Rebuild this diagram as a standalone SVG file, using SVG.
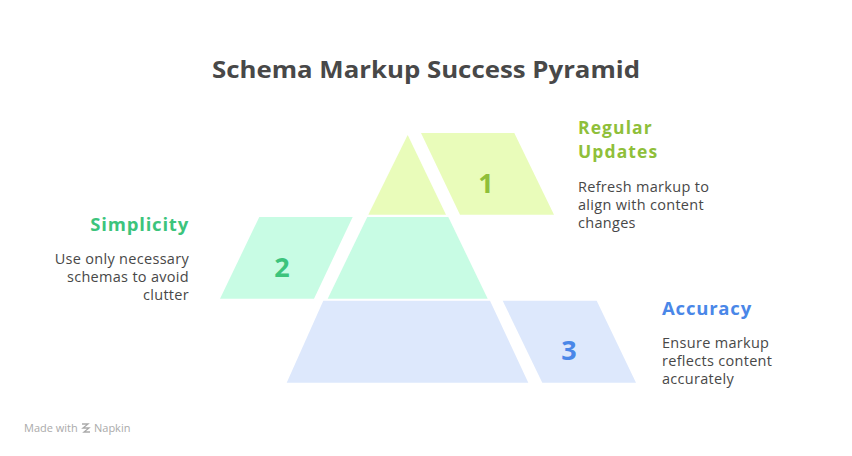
<svg xmlns="http://www.w3.org/2000/svg" width="852" height="456" viewBox="0 0 852 456">
<style>
.title{font-family:"Open Sans","Liberation Sans",sans-serif;font-weight:bold;font-size:24px;fill:#484848}
.head{font-family:"Open Sans","Liberation Sans",sans-serif;font-weight:bold;font-size:18.5px;letter-spacing:0.8px}
.desc{font-family:"Open Sans","Liberation Sans",sans-serif;font-size:14.5px;letter-spacing:0.3px;fill:#484848}
.num{font-family:"Open Sans","Liberation Sans",sans-serif;font-weight:bold;font-size:27px;text-anchor:middle}
.foot{font-family:"Open Sans","Liberation Sans",sans-serif;font-size:11px;fill:#aaaaaa}
.g1{fill:#e9fcba}.t1{fill:#8fbf3a}
.g2{fill:#c8fce4}.t2{fill:#3cc47c}
.g3{fill:#dde8fc}.t3{fill:#4a87e8}
</style>
<rect width="852" height="456" fill="#ffffff"/>
<text class="title" x="426" y="78" text-anchor="middle" textLength="428" lengthAdjust="spacingAndGlyphs">Schema Markup Success Pyramid</text>

<g id="level1">
<polygon class="g1" points="407.7,135 446,214.7 368.3,214.7"/>
<polygon class="g1" points="421,133 514.3,133 554,214.7 460,214.7"/>
<text class="num t1" x="486" y="193">1</text>
<text class="head t1" x="578" y="134" style="font-size:17.5px;letter-spacing:1.1px">Regular</text>
<text class="head t1" x="578" y="158" style="font-size:17.5px;letter-spacing:1.1px">Updates</text>
<text class="desc" x="578" y="192"><tspan x="578" y="192">Refresh markup to</tspan><tspan x="578" y="210">align with content</tspan><tspan x="578" y="228">changes</tspan></text>
</g>

<g id="level2">
<polygon class="g2" points="367.3,217 448.3,217 487.7,298.7 327.7,298.7"/>
<polygon class="g2" points="259.3,217 352.7,217 314,298.7 220,298.7"/>
<text class="num t2" x="282" y="277">2</text>
<text class="head t2" x="189" y="231" text-anchor="end">Simplicity</text>
<text class="desc" x="189" y="264" text-anchor="end"><tspan x="189" y="264">Use only necessary</tspan><tspan x="189" y="282">schemas to avoid</tspan><tspan x="189" y="300">clutter</tspan></text>
</g>

<g id="level3">
<polygon class="g3" points="323.3,300.7 490,300.7 528.3,382.7 286.7,382.7"/>
<polygon class="g3" points="502.7,300.7 596.7,300.7 636,382.7 542.3,382.7"/>
<text class="num t3" x="569" y="360">3</text>
<text class="head t3" x="662" y="315">Accuracy</text>
<text class="desc" x="662" y="348"><tspan x="662" y="348">Ensure markup</tspan><tspan x="662" y="366">reflects content</tspan><tspan x="662" y="384">accurately</tspan></text>
</g>

<g id="connectors"></g>

<g id="footer">
<text class="foot" x="24" y="432">Made with</text>
<path d="M82,424 L88,424 L83,428 L89,428 L84,432 L90,432" fill="none" stroke="#aaaaaa" stroke-width="1.3"/>
<text class="foot" x="94" y="432">Napkin</text>
</g>
</svg>
